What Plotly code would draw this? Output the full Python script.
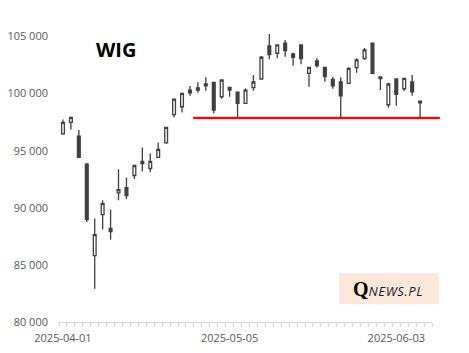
import plotly.graph_objects as go

# ---- data (WIG daily OHLC) ----
dates = [
    "2025-04-01", "2025-04-02", "2025-04-03", "2025-04-04", "2025-04-07", "2025-04-08",
    "2025-04-09", "2025-04-10", "2025-04-11", "2025-04-14", "2025-04-15", "2025-04-16",
    "2025-04-17", "2025-04-22", "2025-04-23", "2025-04-24", "2025-04-25", "2025-04-28",
    "2025-04-29", "2025-04-30", "2025-05-02", "2025-05-05", "2025-05-06", "2025-05-07",
    "2025-05-08", "2025-05-09", "2025-05-12", "2025-05-13", "2025-05-14", "2025-05-15",
    "2025-05-16", "2025-05-19", "2025-05-20", "2025-05-21", "2025-05-22", "2025-05-23",
    "2025-05-26", "2025-05-27", "2025-05-28", "2025-05-29", "2025-05-30", "2025-06-02",
    "2025-06-03", "2025-06-04", "2025-06-05", "2025-06-06",
]
opens = [
    96474, 97474, 96272, 93816, 85807, 89404, 88202, 91298, 91772, 92825, 93877, 93439,
    94404, 95684, 98158, 98842, 100307, 100307, 100684, 100983, 99720, 100544, 100132, 99141,
    100509, 101272, 104167, 103527, 104404, 103465, 104254, 101772, 102851, 102298, 101246, 101009,
    100895, 102263, 103053, 104404, 101448, 99018, 101272, 100421, 101009, 99342,
]
highs = [
    97737, 97950, 96799, 93930, 89053, 90658, 89842, 93377, 92649, 93750, 95281, 94755,
    95719, 97100, 99550, 100050, 100658, 100983, 101421, 101035, 101200, 100580, 100150, 100456,
    101623, 103290, 105220, 104280, 104694, 103579, 104280, 102320, 103088, 102320, 101448, 101421,
    102298, 103088, 103992, 104430, 101470, 100948, 101300, 101350, 101623, 99360,
]
lows = [
    96400, 96860, 94350, 88755, 82912, 88088, 87211, 90658, 90772, 92527, 93176, 93141,
    94350, 95597, 97913, 98351, 99807, 100070, 100246, 98263, 99544, 99720, 97877, 99100,
    100246, 101250, 103000, 103088, 103228, 102439, 102562, 100597, 102263, 101035, 100421, 97913,
    100870, 101825, 102965, 101684, 100307, 98755, 98930, 100220, 99807, 97913,
]
closes = [
    97474, 97913, 94404, 88965, 87649, 90369, 87913, 91597, 91070, 93702, 94053, 94053,
    95105, 97035, 99518, 100018, 100070, 100483, 100834, 98553, 101184, 100307, 99141, 100307,
    101009, 103176, 103404, 104254, 103755, 103176, 103053, 102298, 102439, 101474, 100684, 99807,
    102211, 102939, 103816, 101772, 101298, 100834, 99930, 101334, 100158, 99193,
]

label_dates = ["2025-04-01", "2025-05-05", "2025-06-03"]
y_ticks = [80000, 85000, 90000, 95000, 100000, 105000]
support_level = 97877
support_from = "2025-04-25"
n_slots = len(dates) + 1  # axis has one empty slot after the last session

x_idx = list(range(len(dates)))

fig = go.Figure()
fig.add_trace(go.Candlestick(
    x=x_idx, open=opens, high=highs, low=lows, close=closes,
    increasing=dict(line=dict(color="#404040", width=1.3), fillcolor="#ffffff"),
    decreasing=dict(line=dict(color="#404040", width=1.3), fillcolor="#404040"),
    whiskerwidth=0, showlegend=False, hoverinfo="skip",
))

# support line (starts just after the chosen session and runs past the axis end)
sx = dates.index(support_from) + 0.4
fig.add_shape(type="line", xref="x domain", yref="y",
              x0=(sx + 0.5) / n_slots, x1=1.021,
              y0=support_level, y1=support_level,
              line=dict(color="#ff0000", width=2.2))

fig.update_layout(
    width=469, height=353,
    margin=dict(l=59, r=37, t=25, b=31),
    paper_bgcolor="white", plot_bgcolor="white",
    separators=", ",
    boxgap=0.5,
    font=dict(family="Open Sans", size=11, color="#595959"),
    xaxis=dict(
        range=[-0.5, n_slots - 0.5],
        rangeslider=dict(visible=False),
        tickmode="array",
        tickvals=[dates.index(d) for d in label_dates],
        ticktext=label_dates,
        ticks="",
        showline=True, linecolor="#d9d9d9", linewidth=1,
        showgrid=False, zeroline=False,
        automargin=False,
        ticklabelstandoff=6,
        minor=dict(tickmode="linear", tick0=-0.5, dtick=1, ticks="outside",
                   ticklen=4, tickcolor="#d9d9d9", tickwidth=1, showgrid=False),
        tickfont=dict(size=11, color="#595959"),
    ),
    yaxis=dict(
        range=[80000, 106000],
        tickmode="array", tickvals=y_ticks,
        tickformat=",d",
        showgrid=False, zeroline=False, showline=False, ticks="",
        automargin=False,
        ticklabelstandoff=10,
        tickfont=dict(size=11, color="#595959"),
    ),
)

# title
fig.add_annotation(text="<b>WIG</b>", xref="paper", yref="paper", x=0.153, y=0.916,
                   xanchor="center", yanchor="middle",
                   showarrow=False, font=dict(family="Open Sans", size=20, color="#000000"))

# logo box
fig.add_shape(type="rect", xref="paper", yref="paper", x0=0.751, x1=1.019, y0=0.06, y1=0.165,
              line=dict(width=0), fillcolor="#fce8da", layer="below")
fig.add_annotation(
    text="<b><span style='font-family:Liberation Serif;font-size:20px;color:#000'>Q</span></b>"
         "<i><span style='font-family:Open Sans;font-size:13px;color:#1c1c34;letter-spacing:0.6px'>NEWS.PL</span></i>",
    xref="paper", yref="paper", x=0.882, y=0.112, showarrow=False,
    xanchor="center", yanchor="middle")

fig.write_html("out.html")
